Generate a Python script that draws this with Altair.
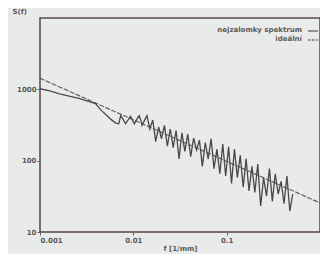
import altair as alt
import pandas as pd

# measured spectrum
meas_f = [0.001, 0.00127, 0.00162, 0.00205, 0.00261, 0.00332, 0.00393, 0.00453,
          0.00511, 0.00575, 0.00649, 0.00698, 0.00732, 0.00787, 0.00825, 0.00887,
          0.0093, 0.00977, 0.01024, 0.0110, 0.01155, 0.0121, 0.0124, 0.01334,
          0.0140, 0.01503, 0.01616, 0.01736, 0.01866, 0.02005, 0.02154, 0.02315,
          0.02488, 0.02673, 0.02872, 0.03087, 0.03317, 0.03564, 0.0383, 0.04117,
          0.04424, 0.04753, 0.05108, 0.05489, 0.05898, 0.06338, 0.06811, 0.07318,
          0.07864, 0.08451, 0.09081, 0.09758, 0.1049, 0.1127, 0.1211, 0.1301,
          0.1398, 0.1503, 0.1615, 0.1735, 0.1865, 0.2004, 0.2154, 0.2314,
          0.2487, 0.2672, 0.2872, 0.3086, 0.3316, 0.3563, 0.3829, 0.4115,
          0.4422, 0.4751, 0.5105]
meas_s = [1019, 948, 861, 801, 745, 677, 630, 507,
          439, 379, 336, 329, 428, 371, 329, 379,
          418, 371, 329, 389, 428, 362, 313, 379,
          428, 278, 371, 185, 298, 203, 313, 160,
          278, 152, 265, 106, 246, 135, 235, 114,
          208, 141, 194, 83.3, 180, 106, 203, 77.5,
          145, 65.5, 171, 60.9, 156, 47.9, 145, 58.0,
          119, 42.4, 106, 37.6, 83.3, 35.8, 89.5, 23.2,
          58.0, 31.8, 77.5, 26.9, 65.5, 34.1, 51.4, 25.0,
          60.9, 19.6, 34.1]

# straight-line approximation
fit_f = [0.001, 1.0]
fit_s = [1430, 25.6]

legend_labels = ["nejzalomky spektrum", "ideální"]

x_ticks = [0.001, 0.01, 0.1]
y_ticks = [10, 100, 1000]

ink = "#4a4848"
txt = "#5a5858"
bg = "#e9ebea"

meas = pd.DataFrame({"f": meas_f, "S": meas_s})
fit = pd.DataFrame({"f": fit_f, "S": fit_s})

xs = alt.Scale(type="log", domain=[0.001, 1])
ys = alt.Scale(type="log", domain=[10, 2000])

x_enc = alt.X("f:Q", scale=xs, axis=alt.Axis(values=x_ticks, format="~g", title="f [1/mm]",
                                               titlePadding=1))
y_enc = alt.Y("S:Q", scale=ys, axis=alt.Axis(values=y_ticks, format="~g", title="S(f)",
                                               titleAngle=0, titleX=-28, titleY=-7,
                                               titleAlign="left", titleBaseline="middle"))

meas_line = alt.Chart(meas).mark_line(color=ink, strokeWidth=1.3, clip=True).encode(x=x_enc, y=y_enc)
fit_line = alt.Chart(fit).mark_line(color=ink, strokeWidth=1.2, strokeDash=[5, 1.5], opacity=0.85,
                                    clip=True).encode(x="f:Q", y="S:Q")

one = alt.Data(values=[{"a": 1}])
leg_t1 = alt.Chart(one).mark_text(text=legend_labels[0], align="right", baseline="middle",
                                  fontSize=7, color=txt, font="DejaVu Sans", fontWeight="bold").encode(
    x=alt.value(262), y=alt.value(12))
leg_t2 = alt.Chart(one).mark_text(text=legend_labels[1], align="right", baseline="middle",
                                  fontSize=7, color=txt, font="DejaVu Sans", fontWeight="bold").encode(
    x=alt.value(262), y=alt.value(21))
leg_r1 = alt.Chart(one).mark_rule(color=ink, strokeWidth=1.1).encode(
    x=alt.value(268), x2=alt.value(278), y=alt.value(13))
leg_r2 = alt.Chart(one).mark_rule(color=ink, strokeWidth=1.1, strokeDash=[3, 1]).encode(
    x=alt.value(268), x2=alt.value(278), y=alt.value(22))

chart = alt.layer(meas_line, fit_line, leg_t1, leg_t2, leg_r1, leg_r2).properties(
    width=280, height=214,
    padding={"left": 32, "top": 10, "right": 0, "bottom": 22},
    autosize=alt.AutoSizeParams(type="none"),
    background=bg,
).configure_view(
    stroke="#5b4646", strokeWidth=1.5, fill=bg
).configure_axis(
    grid=False, domain=False, tickColor="#6a5a5a", tickSize=3,
    labelFont="DejaVu Sans", labelFontSize=7, labelColor=txt, labelFontWeight="bold",
    titleFont="DejaVu Sans", titleFontSize=7, titleColor=txt, titleFontWeight="bold",
    labelPadding=1,
)

chart.save("out.html", embed_options={"renderer": "svg", "actions": False})
